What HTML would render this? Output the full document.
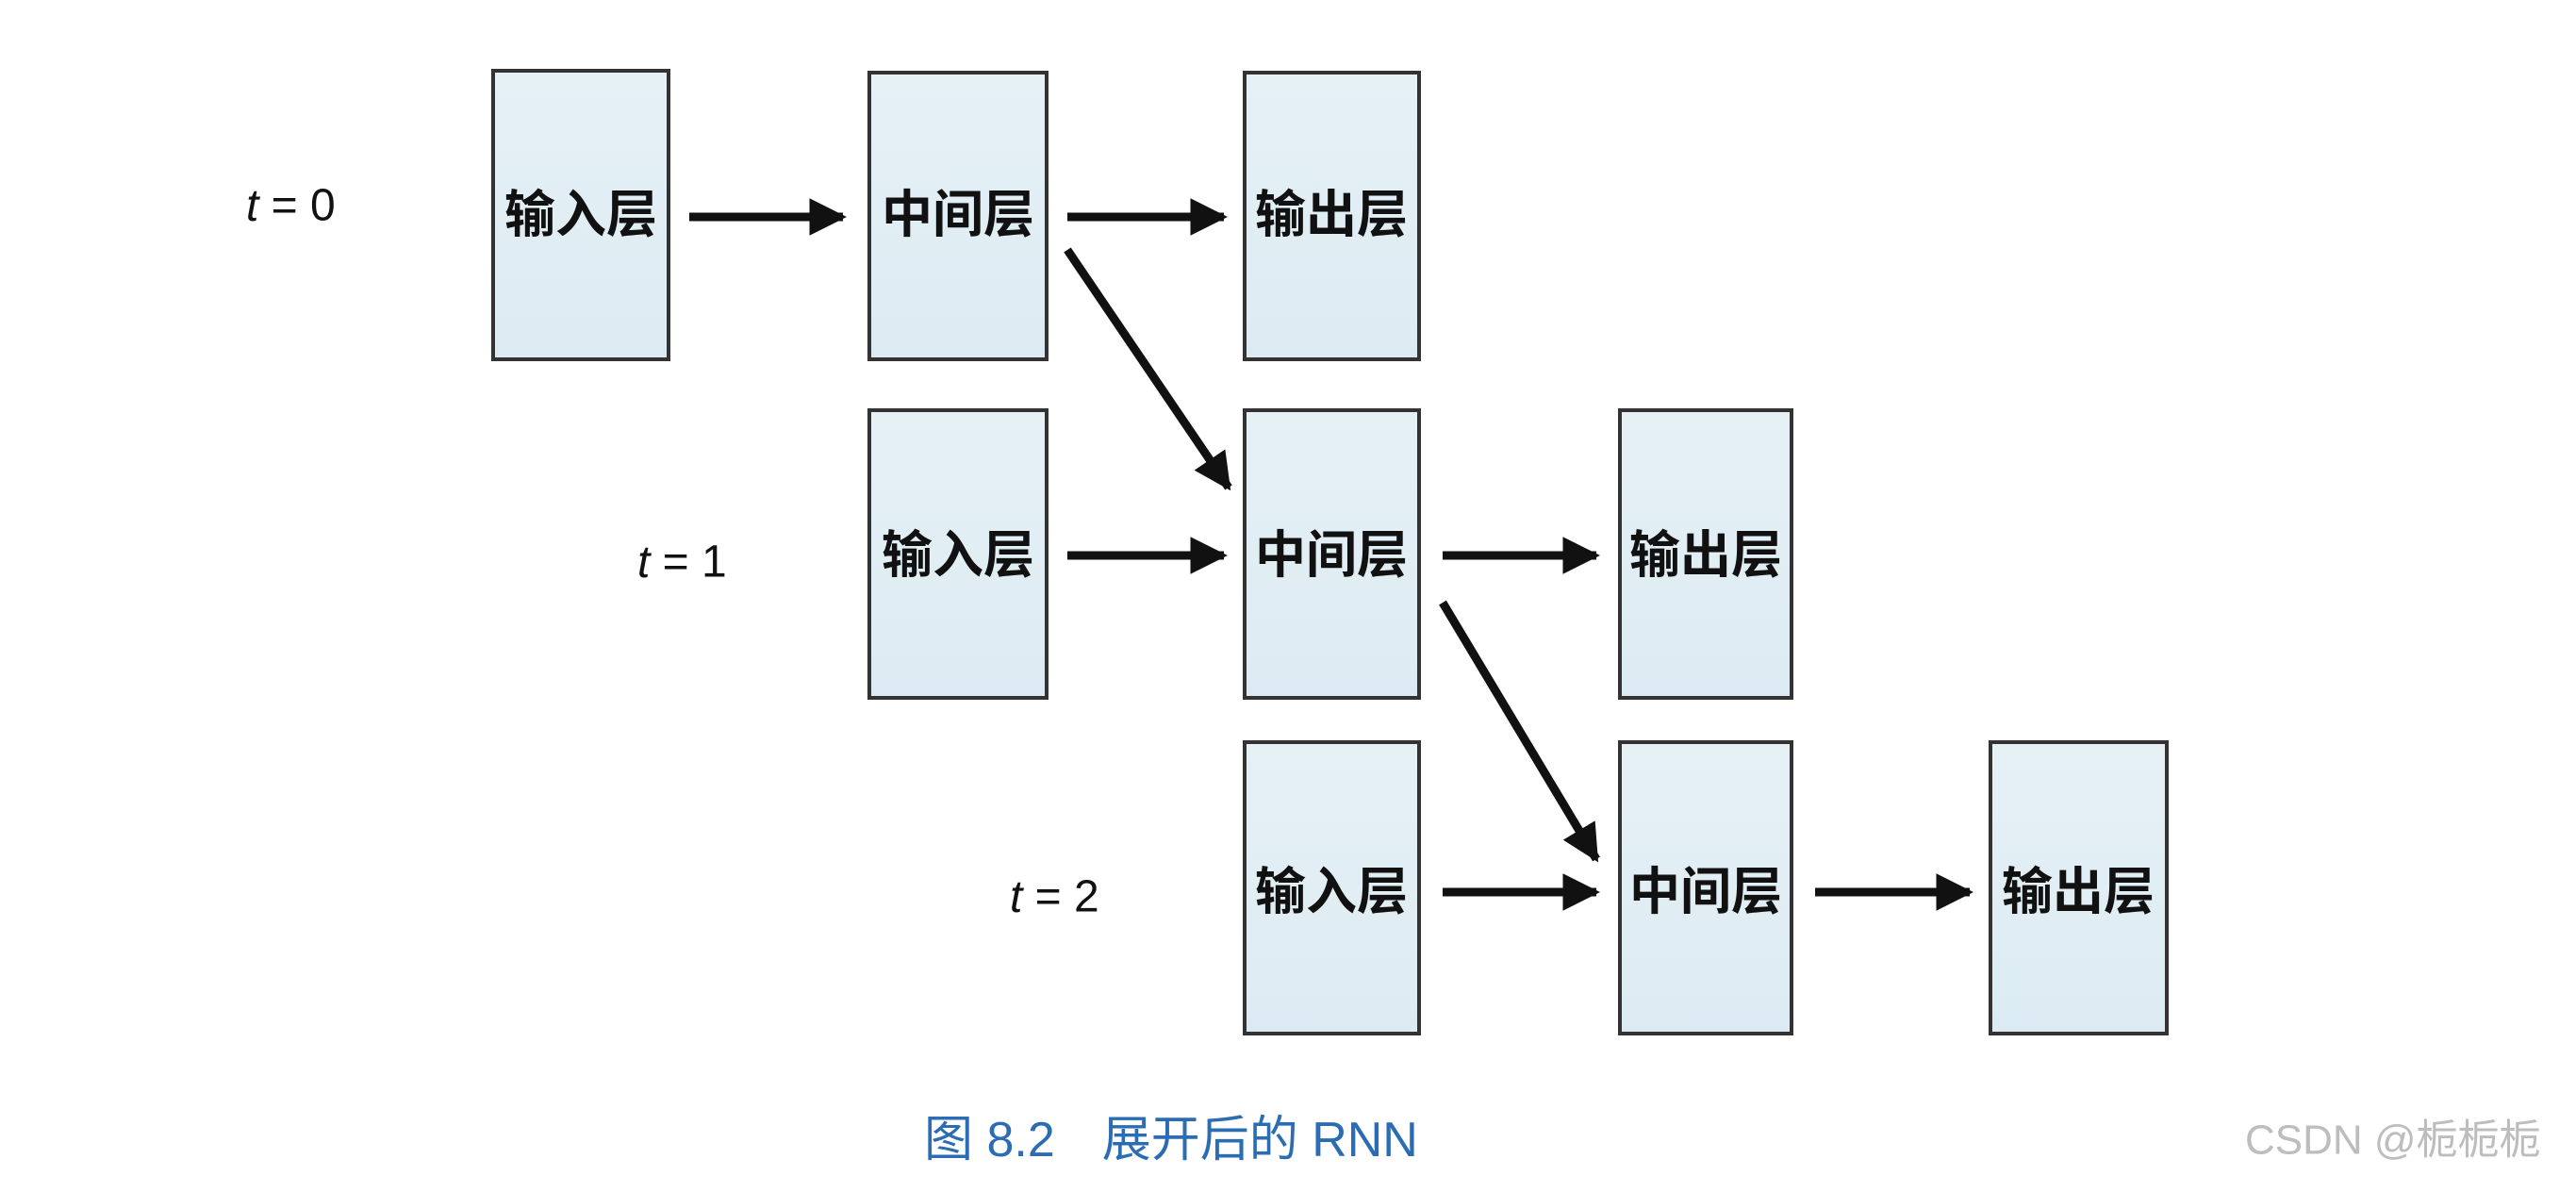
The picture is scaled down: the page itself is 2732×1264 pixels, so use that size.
<!DOCTYPE html>
<html><head><meta charset="utf-8"><style>
html,body{margin:0;padding:0;background:#fff;}
svg{display:block;}
</style></head><body>
<svg width="2732" height="1264" viewBox="0 0 2732 1264" xmlns="http://www.w3.org/2000/svg">
<defs>
<linearGradient id="g" x1="0" y1="0" x2="0" y2="1"><stop offset="0" stop-color="#e6f1f6"/><stop offset="1" stop-color="#dcebf3"/></linearGradient>
<marker id="ah" viewBox="0 0 10 10" refX="9" refY="5" markerWidth="4.4" markerHeight="4.4" orient="auto" markerUnits="strokeWidth"><path d="M0,0 L10,5 L0,10 z" fill="#111"/></marker>
</defs>
<g fill="url(#g)" stroke="#333" stroke-width="4">
<rect x="523" y="75" width="186" height="306"/>
<rect x="922" y="77" width="188" height="304"/>
<rect x="1320" y="77" width="185" height="304"/>
<rect x="922" y="435" width="188" height="305"/>
<rect x="1320" y="435" width="185" height="305"/>
<rect x="1718" y="435" width="182" height="305"/>
<rect x="1320" y="787" width="185" height="309"/>
<rect x="1718" y="787" width="182" height="309"/>
<rect x="2111" y="787" width="187" height="309"/>
</g>
<g font-family="'Liberation Sans','Noto Sans CJK SC',sans-serif" font-weight="bold" font-size="54" fill="#111" text-anchor="middle" dominant-baseline="central">
<text x="616" y="228">输入层</text>
<text x="1016" y="228">中间层</text>
<text x="1412" y="228">输出层</text>
<text x="1016" y="589">输入层</text>
<text x="1412" y="589">中间层</text>
<text x="1809" y="589">输出层</text>
<text x="1412" y="946">输入层</text>
<text x="1809" y="946">中间层</text>
<text x="2204" y="946">输出层</text>
</g>
<g font-family="'Liberation Sans',sans-serif" font-size="48" fill="#111" dominant-baseline="central">
<text x="261" y="218"><tspan font-style="italic">t</tspan> = 0</text>
<text x="676" y="596"><tspan font-style="italic">t</tspan> = 1</text>
<text x="1071" y="951"><tspan font-style="italic">t</tspan> = 2</text>
</g>
<g stroke="#111" stroke-width="9" marker-end="url(#ah)">
<line x1="731" y1="230" x2="894" y2="230"/>
<line x1="1132" y1="230" x2="1298" y2="230"/>
<line x1="1132" y1="589" x2="1298" y2="589"/>
<line x1="1530" y1="589" x2="1693" y2="589"/>
<line x1="1530" y1="946" x2="1693" y2="946"/>
<line x1="1925" y1="946" x2="2089" y2="946"/>
<line x1="1132" y1="265" x2="1303" y2="517"/>
<line x1="1530" y1="639" x2="1693" y2="911"/>
</g>
<text x="980" y="1209" font-family="'Liberation Sans','Noto Sans CJK SC',sans-serif" font-size="52" fill="#2b6cb3" dominant-baseline="central">图 8.2<tspan dx="50">展开后的 RNN</tspan></text>
<text x="2381" y="1209" font-family="'Liberation Sans','Noto Sans CJK SC',sans-serif" font-size="44" fill="#bdbdbd" dominant-baseline="central">CSDN @栀栀栀</text>
</svg>
</body></html>
